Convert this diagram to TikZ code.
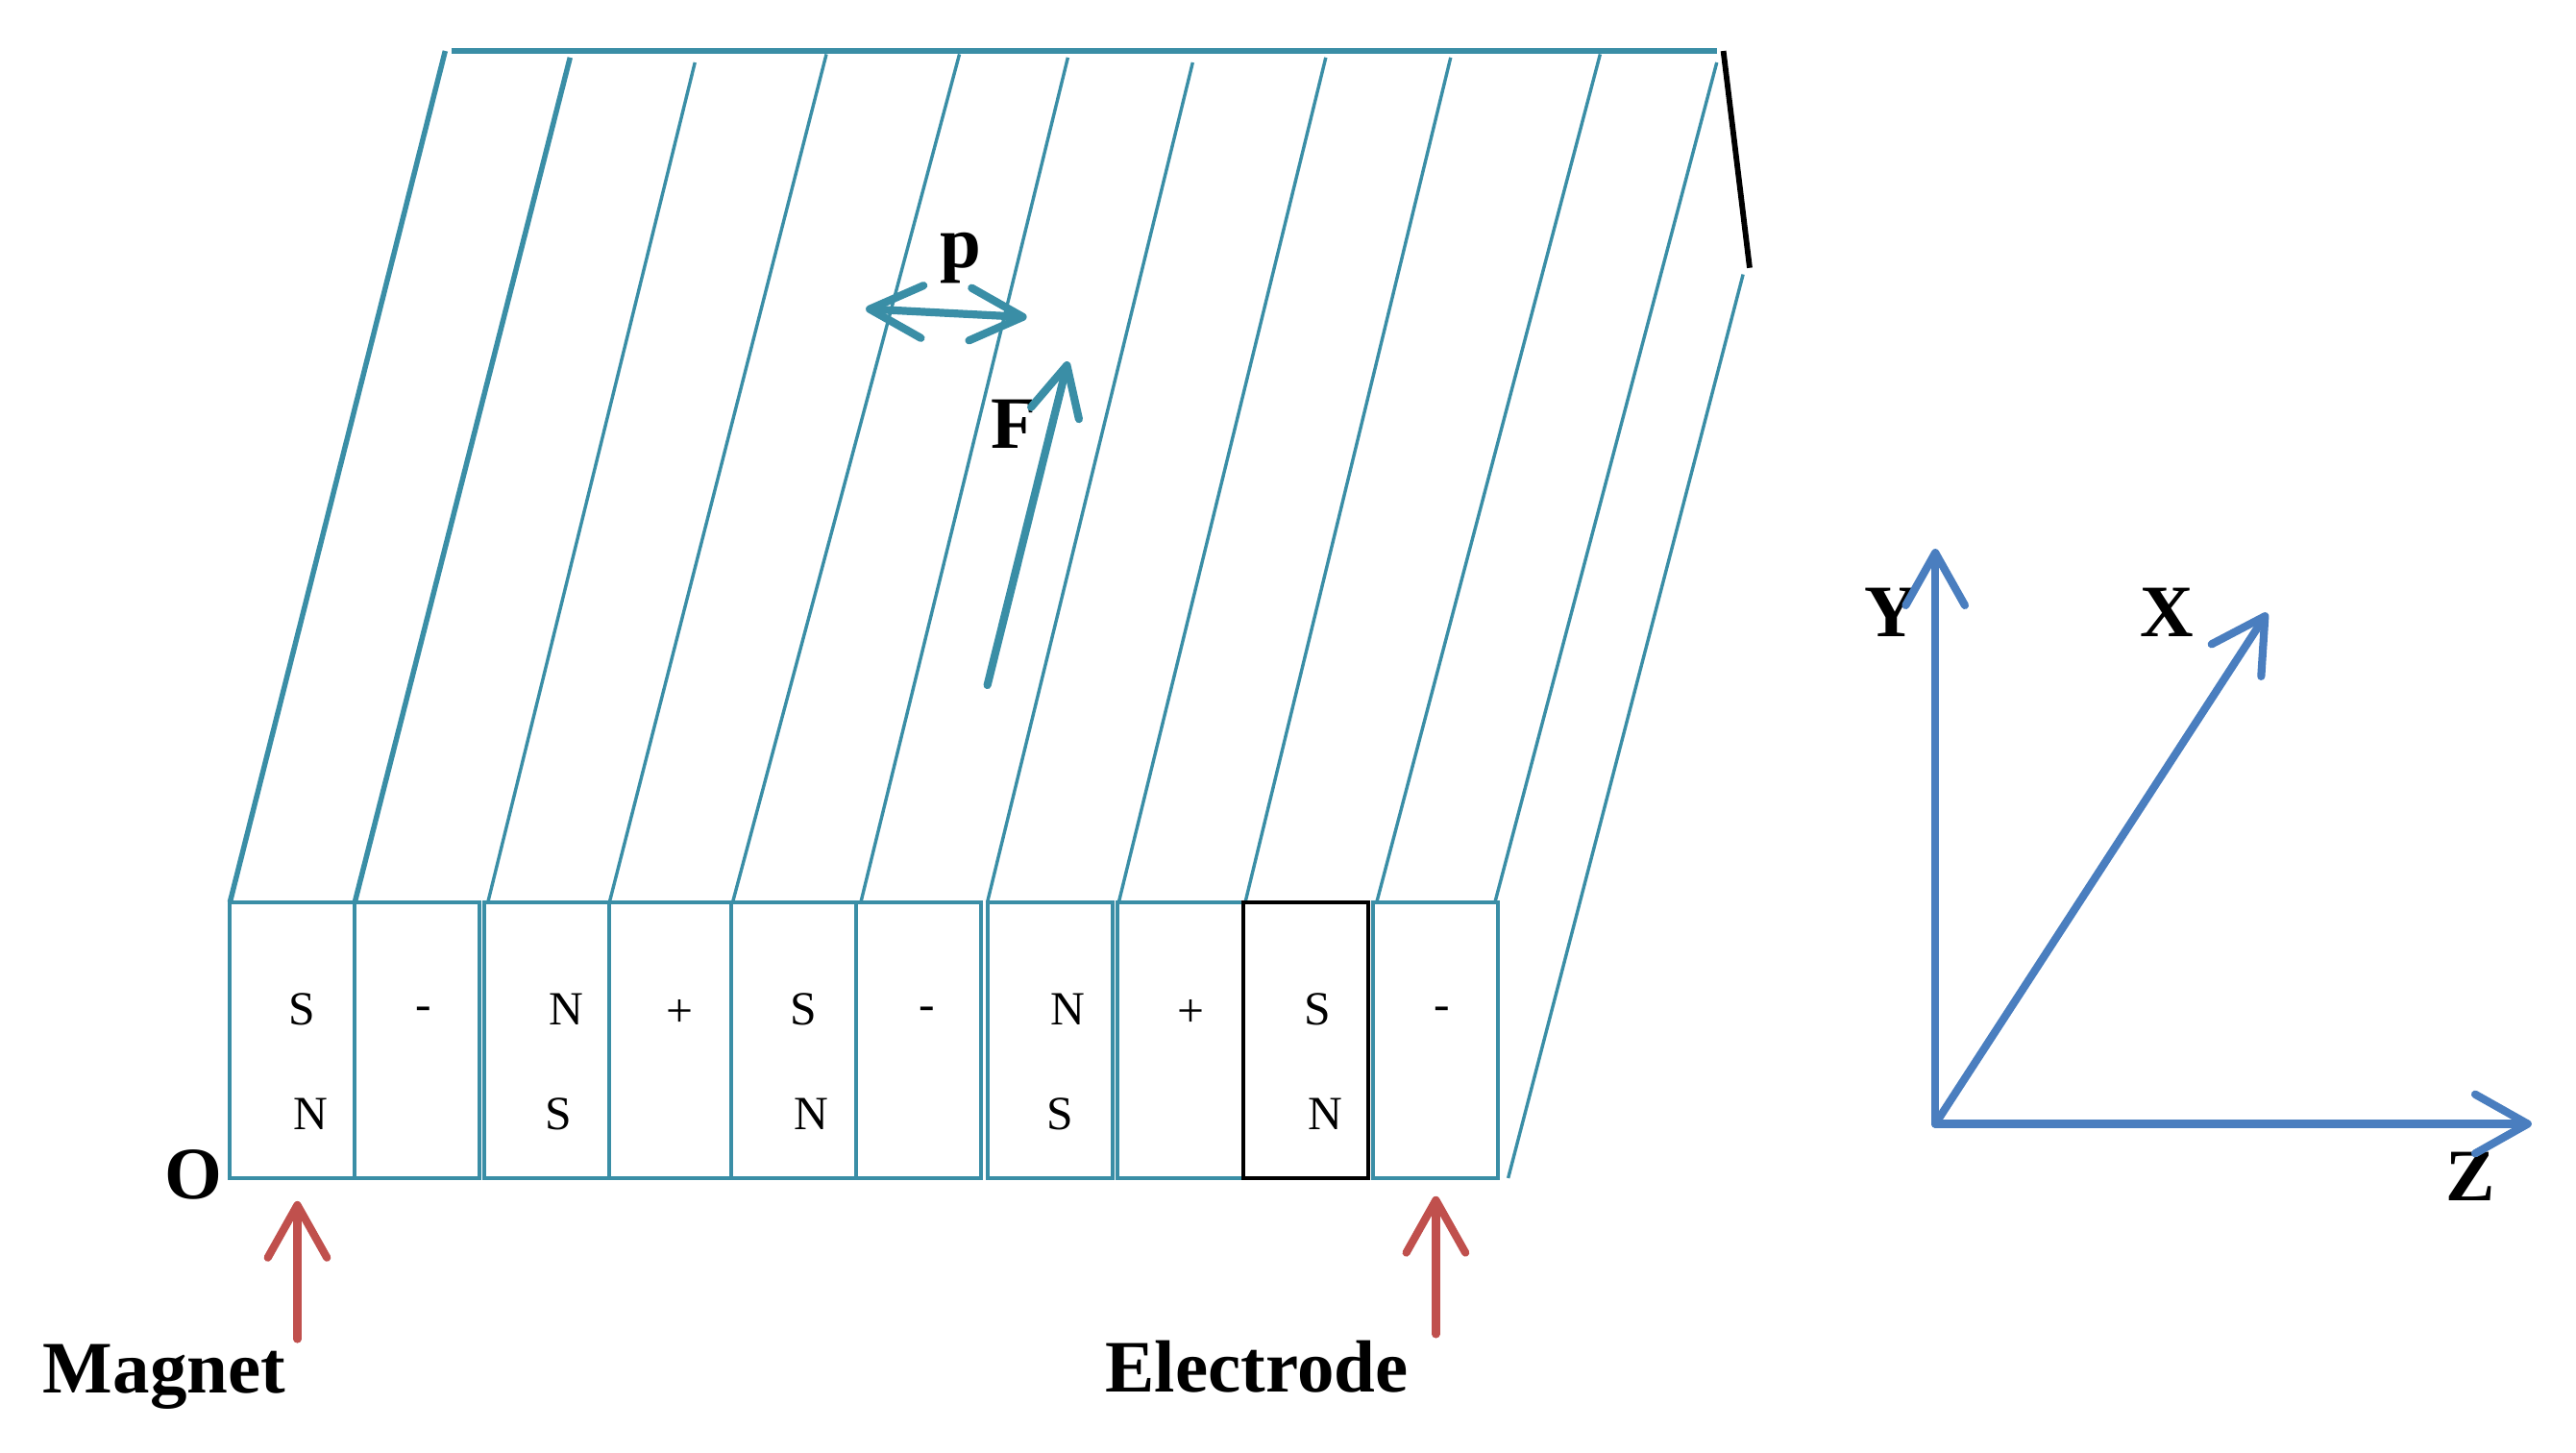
\documentclass[tikz,border=0pt]{standalone}
\usepackage{fontspec}
\setmainfont{Liberation Serif}
\usetikzlibrary{arrows.meta}
\definecolor{railteal}{HTML}{3A8EA6}
\definecolor{markred}{HTML}{C0504D}
\definecolor{axisblue}{HTML}{4A7EBF}
\tikzset{
  rail/.style={draw=railteal,line width=2pt},
  thickrail/.style={draw=railteal,line width=3.2pt},
  cellbox/.style={rectangle,draw=railteal,line width=2.4pt,inner sep=0pt,minimum height=168pt},
  pole/.style={inner sep=0pt,font=\fontsize{29}{32}\selectfont},
  biglabel/.style={inner sep=0pt,font=\fontsize{45}{50}\selectfont\bfseries},
  barb/.style={-{Straight Barb[length=32pt,width=36pt,round]},line width=4.8pt,line cap=round},
  forcearrow/.style={barb,draw=railteal},
  markarrow/.style={barb,draw=markred},
  axisarrow/.style={barb,draw=axisblue},
}
\begin{document}
\begin{tikzpicture}[x=1pt,y=-1pt]
\useasboundingbox (0,0) rectangle (1568,884);
% rails
\foreach \b/\t/\y in {297/423/38,371/503/33,446/584/33,524/650/35,601/726/38,681/807/35,758/883/35,838/974/33,910/1045/38}
  \draw[rail] (\b,549) -- (\t,\y);
\draw[thickrail] (140,549) -- (271,31);
\draw[thickrail] (216,549) -- (347,35);
\draw[rail] (918,717) -- (1061,167);
\draw[thickrail] (275,31) -- (1045,31);
\draw[black,line width=3.4pt] (1049,31) -- (1065,163);
% cells
\foreach \l/\r [count=\n] in {140/216,216/292,295/371,371/445,445/521,521/597,601/677,680/757,757/833,836/912}
  \node[cellbox,minimum width={(\r-\l)*1pt}] (cell\n) at ({(\l+\r)/2},633) {};
\node[cellbox,draw=black,minimum width=76pt] at (cell9) {};
% poles
\foreach \x/\a in {184/S,345/N,489/S,650/N,802/S}
  \node[pole] at (\x,614) {\a};
\foreach \x/\a in {189/N,340/S,494/N,645/S,807/N}
  \node[pole] at (\x,678) {\a};
\foreach \x/\a in {258/-,414/+,564/-,725/+,878/-}
  \node[pole] at (\x,617) {\a};
% labels
\node[biglabel] (origin) at (118,715) {O};
\node[biglabel] (magnet) at (100,838) {Magnet};
\node[biglabel] (electrode) at (765,832) {Electrode};
\node[biglabel] (pitch) at (585,157) {p};
\node[biglabel] (force) at (617,258) {F};
\node[biglabel] (ylab) at (1151,373) {Y};
\node[biglabel] (xlab) at (1319,373) {X};
\node[biglabel] (zlab) at (1504,716) {Z};
% arrows
\coordinate (axis0) at (1178,684);
\coordinate (yend) at (1178,334);
\coordinate (xend) at (1380,373);
\coordinate (zend) at (1541,684);
\draw[axisarrow] (axis0) -- (yend);
\draw[axisarrow] (axis0) -- (xend);
\draw[axisarrow] (axis0) -- (zend);
\draw[markarrow] (181,815) -- (181,731);
\draw[markarrow] (874,812) -- (874,728);
\draw[forcearrow,-{Straight Barb[length=30pt,width=30pt,round]}] (601,417) -- (650,220);
\draw[forcearrow,{Straight Barb[length=32pt,width=32pt,round]}-{Straight Barb[length=32pt,width=32pt,round]}] (527,188) -- (625,193);
\end{tikzpicture}
\end{document}
